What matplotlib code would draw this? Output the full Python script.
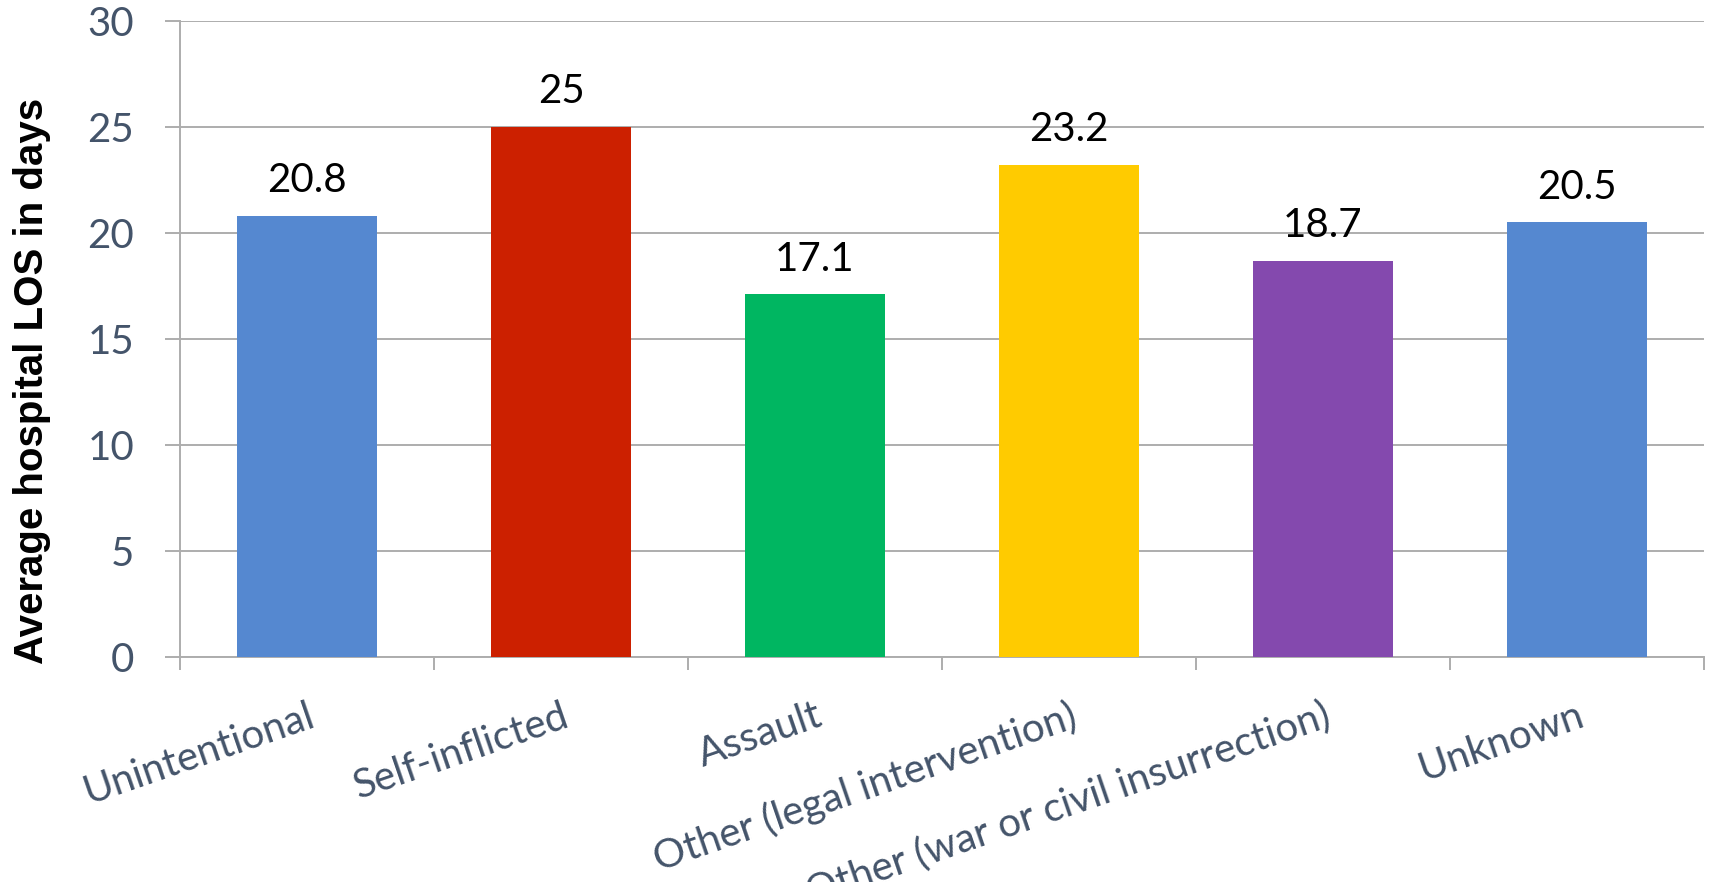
import numpy as np
import matplotlib
matplotlib.use("Agg")
from matplotlib import pyplot as plt
from matplotlib import transforms

categories = ["Unintentional", "Self-inflicted", "Assault",
              "Other (legal intervention)", "Other (war or civil insurrection)", "Unknown"]
values = [20.8, 25, 17.1, 23.2, 18.7, 20.5]
colors = ["#5588D0", "#CC2000", "#00B661", "#FFCB00", "#8449AE", "#5588D0"]
y_ticks = [0, 5, 10, 15, 20, 25, 30]

txt_color = "#44546A"
grid_color = "#ADADAD"

fig = plt.figure(figsize=(17.09, 8.82), dpi=100)
ax = fig.add_axes([180/1709, 1 - 657/882, (1704 - 180)/1709, (657 - 21)/882])

x = np.arange(len(categories))
ax.bar(x, values, width=0.55, color=colors, zorder=3)

for xi, v in zip(x, values):
    ax.annotate("{:g}".format(v), (xi, v), xytext=(0, 12), textcoords="offset points",
                ha="center", va="bottom", fontsize=29, family="Lato", color="black")

ax.set_xlim(-0.5, len(categories) - 0.5)
ax.set_ylim(0, 30)
ax.set_yticks(y_ticks)
ax.set_yticklabels([str(t) for t in y_ticks], fontsize=29, family="Lato", color=txt_color)
ax.yaxis.grid(True, color=grid_color, linewidth=1.4, zorder=0)
ax.tick_params(axis="y", length=11, width=1.4, color=grid_color, pad=22)

ax.set_xticks(np.arange(len(categories) + 1) - 0.5)
ax.set_xticklabels([])
ax.tick_params(axis="x", length=9, width=1.4, color=grid_color)

for s in ["top", "right"]:
    ax.spines[s].set_visible(False)
for s in ["left", "bottom"]:
    ax.spines[s].set_color(grid_color)
    ax.spines[s].set_linewidth(1.4)

# rotated category labels, right end at the category centre
trans = transforms.blended_transform_factory(ax.transData, fig.transFigure)
for xi, lab in zip(x, categories):
    ax.text(xi, 1 - 697/882, lab, transform=trans, rotation=19,
            rotation_mode="anchor", ha="right", va="top",
            fontsize=29, family="Lato", color=txt_color)

fig.text(32/1709, 1 - 381/882, "Average hospital LOS in days", rotation=90,
         ha="center", va="center", fontsize=29, fontweight="bold",
         family="Liberation Sans", color="black")

fig.savefig("out.png", dpi=100)
